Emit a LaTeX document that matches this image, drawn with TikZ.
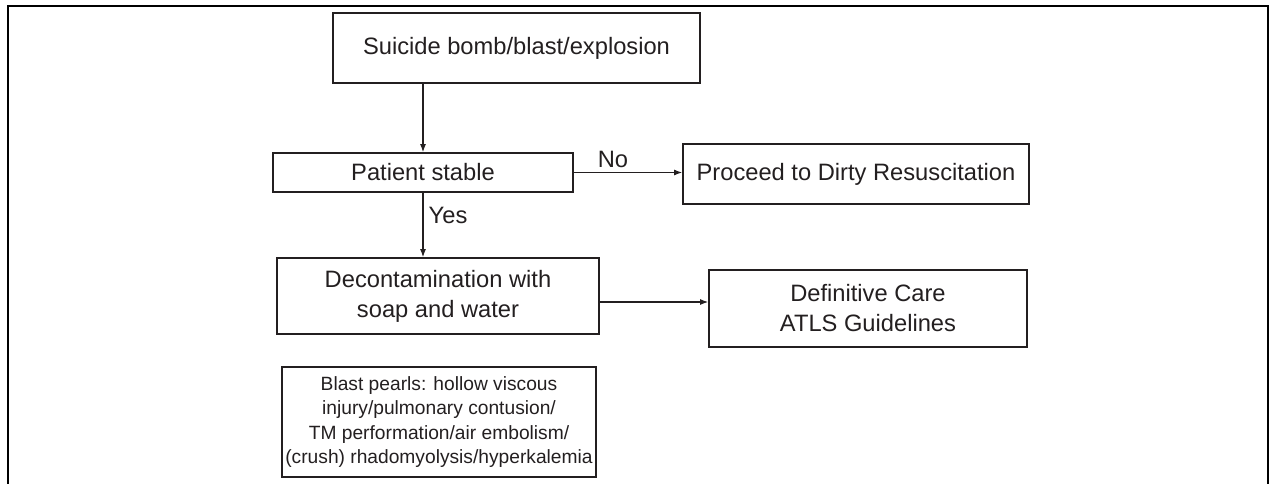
\documentclass[tikz,border=0pt]{standalone}
\usepackage{fontspec}
\setmainfont{Liberation Sans}
\usetikzlibrary{arrows.meta}
\definecolor{ink}{HTML}{231F20}
\tikzset{
  box/.style={draw=ink, line width=1.8pt, rectangle, inner sep=0pt, align=center, text=ink,
    font=\fontsize{23.7}{30}\selectfont},
  small/.style={box, font=\fontsize{19.2}{24.5}\selectfont},
  arr/.style={draw=ink, line width=1.1pt, -{Latex[length=8pt,width=6pt]}},
  lbl/.style={text=ink, inner sep=0pt, font=\fontsize{23.7}{30}\selectfont},
}
\begin{document}
\begin{tikzpicture}[x=1pt,y=-1pt]
\useasboundingbox (0,0) rectangle (1271,484);
\draw[line width=2pt, black] (8,484) -- (8,6) -- (1268,6) -- (1268,484);
\node[box, minimum width=367pt, minimum height=70pt] (sb) at (516.5,48) {Suicide bomb/blast/explosion};
\node[box, minimum width=300pt, minimum height=39pt] (ps) at (423,172.5) {Patient stable};
\node[box, minimum width=346pt, minimum height=60pt] (pr) at (856,174) {Proceed to Dirty Resuscitation};
\node[box, minimum width=322pt, minimum height=76pt] (dc) at (438,296) {Decontamination with\\soap and water};
\node[box, minimum width=318pt, minimum height=77pt] (dfc) at (868,308.5) {Definitive Care\\ATLS Guidelines};
\node[small, minimum width=314pt, minimum height=110pt] (bp) at (439,422) {Blast pearls: hollow viscous\\injury/pulmonary contusion/\\TM performation/air embolism/\\(crush) rhadomyolysis/hyperkalemia};
\draw[arr] (sb.south -| ps.north) -- (ps.north);
\draw[arr] (ps.east) -- (ps.east -| pr.west);
\draw[arr] (ps.south) -- (ps.south |- dc.north);
\path ([yshift=-6pt]dc.east) coordinate (d1);
\draw[arr] (d1) -- (d1 -| dfc.west);
\node[lbl] (no) at (613,159) {No};
\node[lbl] (yes) at (448,215) {Yes};
\end{tikzpicture}
\end{document}
